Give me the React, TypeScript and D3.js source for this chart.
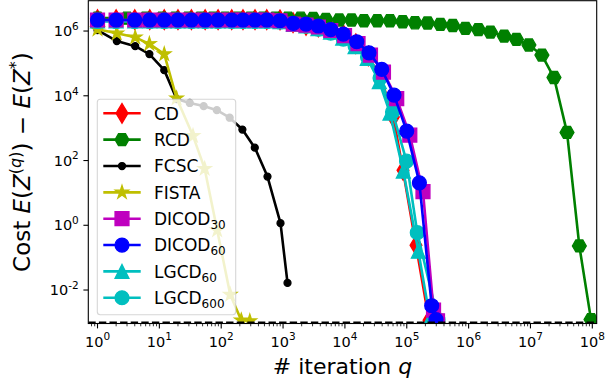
import React, { useEffect, useRef } from "react";
import * as d3 from "d3";

// values (iteration q, cost)
const cdIter = [1, 2, 4, 7, 12, 20, 33, 55, 89, 148, 225, 352, 545, 893, 1450, 2350, 3720, 5900, 9420, 15000, 23900, 38300, 60700, 86900, 141000, 229000];
const cdCost = [2.25e6, 2.25e6, 2.25e6, 2.25e6, 2.25e6, 2.25e6, 2.25e6, 2.25e6, 2.25e6, 2.25e6, 2.25e6, 2.25e6, 2.25e6, 2.2e6, 1.81e6, 1.5e6, 1.33e6, 1.13e6, 7.7e5, 4.05e5, 1.69e5, 3.52e4, 2.2e3, 50, 0.24, 1.16e-3];

const rcdIter = [1, 3, 6, 11, 18, 29, 46, 73, 116, 185, 295, 470, 750, 1200, 1920, 3070, 4920, 8090, 12800, 20300, 33400, 53500, 85900, 136000, 217000, 349000, 554000, 888000, 1440000, 2250000, 3760000, 5940000, 9440000, 15300000, 24000000, 39000000, 61700000, 95300000];
const rcdCost = [2.5e6, 2.5e6, 2.5e6, 2.5e6, 2.5e6, 2.5e6, 2.5e6, 2.5e6, 2.5e6, 2.5e6, 2.5e6, 2.5e6, 2.5e6, 2.5e6, 2.5e6, 2.47e6, 2.3e6, 2.19e6, 2.19e6, 2.08e6, 2.08e6, 2.08e6, 1.94e6, 1.8e6, 1.77e6, 1.61e6, 1.48e6, 1.21e6, 1.11e6, 9.3e5, 7.0e5, 5.5e5, 3.7e5, 1.81e5, 3.66e4, 740, 0.23, 1.22e-3];

const fcscIter = [1, 2.05, 4.07, 6.9, 12, 19, 31, 52, 85, 137, 220, 349, 560, 909, 1180];
const fcscCost = [1.07e6, 4.9e5, 3.4e5, 1.94e5, 6.2e4, 7.9e3, 6.0e3, 4.8e3, 3.6e3, 2.1e3, 906, 250, 32, 1.16, 0.0166];

const fistaIter = [1, 2.05, 4.07, 6.9, 12, 19, 35, 54, 86, 140, 211, 290];
const fistaCost = [1.13e6, 8.5e5, 6.4e5, 4.0e5, 1.94e5, 8.4e3, 580, 56, 0.71, 0.0072, 1.17e-3, 1.1e-3];

const dicod30Iter = [1, 2, 4, 7, 12, 20, 33, 55, 89, 148, 225, 352, 545, 893, 1465, 2350, 3720, 5900, 9860, 16300, 25900, 42000, 68800, 112000, 183000, 271000, 314000];
const dicod30Cost = [2.19e6, 2.19e6, 2.19e6, 2.19e6, 2.19e6, 2.19e6, 2.19e6, 2.19e6, 2.19e6, 2.19e6, 2.19e6, 2.19e6, 2.19e6, 2.08e6, 1.64e6, 1.53e6, 1.33e6, 1.04e6, 7.26e5, 4.11e5, 1.81e5, 5.4e4, 8.2e3, 610, 10.9, 2.4e-3, 1.12e-3];

const dicod60Iter = [1, 2, 4, 7, 12, 20, 33, 55, 89, 148, 225, 352, 545, 893, 1465, 2350, 3720, 5900, 9420, 15500, 24500, 39400, 62200, 99800, 160000, 253000, 297000];
const dicod60Cost = [2.19e6, 2.19e6, 2.19e6, 2.19e6, 2.19e6, 2.19e6, 2.19e6, 2.19e6, 2.19e6, 2.19e6, 2.19e6, 2.19e6, 2.19e6, 2.08e6, 1.73e6, 1.64e6, 1.43e6, 1.11e6, 8.07e5, 4.67e5, 2.13e5, 6.55e4, 1.05e4, 811, 20.5, 3.27e-3, 1.22e-3];

const lgcd60Iter = [1, 2, 4, 7, 12, 20, 33, 55, 89, 148, 225, 352, 545, 893, 1475, 2350, 3670, 5850, 9210, 14600, 23000, 36000, 53600, 87900, 154000, 238000];
const lgcd60Cost = [2.04e6, 2.04e6, 2.04e6, 2.04e6, 2.04e6, 2.04e6, 2.04e6, 2.04e6, 2.04e6, 2.04e6, 2.04e6, 2.04e6, 2.04e6, 1.95e6, 1.59e6, 1.43e6, 1.19e6, 9.3e5, 6.08e5, 3.27e5, 1.43e5, 2.71e4, 2.92e3, 47, 0.158, 1.25e-3];

const lgcd600Iter = [1, 2, 4, 7, 12, 20, 33, 55, 89, 148, 225, 352, 545, 893, 1465, 2350, 3720, 5900, 9420, 14600, 23200, 37000, 58900, 99100, 148000, 320000];
const lgcd600Cost = [1.97e6, 1.97e6, 1.97e6, 1.97e6, 1.97e6, 1.97e6, 1.97e6, 1.97e6, 1.97e6, 1.97e6, 1.97e6, 1.97e6, 1.97e6, 1.9e6, 1.59e6, 1.43e6, 1.15e6, 8.67e5, 5.66e5, 3.44e5, 1.57e5, 3.52e4, 3.13e3, 95.7, 0.59, 1.21e-3];

const tolerance = 1e-3;
const xTicks = [1, 10, 100, 1e3, 1e4, 1e5, 1e6, 1e7, 1e8];
const yTicks = [1e-2, 1, 1e2, 1e4, 1e6];

const series = [
  { name: "CD", sub: "", color: "#ff0000", marker: "thin_diamond", iter: cdIter, cost: cdCost },
  { name: "RCD", sub: "", color: "#008000", marker: "hexagon", iter: rcdIter, cost: rcdCost },
  { name: "FCSC", sub: "", color: "#000000", marker: "point", iter: fcscIter, cost: fcscCost },
  { name: "FISTA", sub: "", color: "#bfbf00", marker: "star", iter: fistaIter, cost: fistaCost },
  { name: "DICOD", sub: "30", color: "#bf00bf", marker: "square", iter: dicod30Iter, cost: dicod30Cost },
  { name: "DICOD", sub: "60", color: "#0000ff", marker: "circle", iter: dicod60Iter, cost: dicod60Cost },
  { name: "LGCD", sub: "60", color: "#00bfbf", marker: "triangle", iter: lgcd60Iter, cost: lgcd60Cost },
  { name: "LGCD", sub: "600", color: "#00bfbf", marker: "circle", iter: lgcd600Iter, cost: lgcd600Cost },
];
// drawing order (DICOD on top of LGCD)
const drawOrder = [0, 1, 2, 3, 6, 7, 4, 5];

const W = 608;
const H = 385;
const margin = { left: 88.3, top: 0.7, right: 11.3, bottom: 61.5 };
const MS = 13.9;
const FONT = "DejaVu Sans, sans-serif";

const polygon = (pts: [number, number][]) =>
  "M" + pts.map((p) => p[0].toFixed(2) + "," + p[1].toFixed(2)).join("L") + "Z";

const markerPath = (kind: string, s: number) => {
  const r = s / 2;
  if (kind === "circle" || kind === "point") {
    const rr = kind === "point" ? s / 4 : r;
    const p = d3.path();
    p.moveTo(rr, 0);
    p.arc(0, 0, rr, 0, 2 * Math.PI);
    p.closePath();
    return p.toString();
  }
  if (kind === "square") return polygon([[-r, -r], [r, -r], [r, r], [-r, r]]);
  if (kind === "triangle") return polygon([[0, -r], [r, r], [-r, r]]);
  if (kind === "thin_diamond") {
    const h = s * Math.SQRT1_2;
    return polygon([[0, -h], [0.6 * h, 0], [0, h], [-0.6 * h, 0]]);
  }
  if (kind === "hexagon") {
    // flat top, points left and right
    const pts: [number, number][] = d3.range(6).map((k) => {
      const a = (k * Math.PI) / 3;
      return [r * Math.cos(a), r * Math.sin(a)];
    });
    return polygon(pts);
  }
  // star
  const pts: [number, number][] = d3.range(10).map((k) => {
    const a = -Math.PI / 2 + (k * Math.PI) / 5;
    const rad = k % 2 === 0 ? r : r * 0.381;
    return [rad * Math.cos(a), rad * Math.sin(a)];
  });
  return polygon(pts);
};

export default function App() {
  const ref = useRef<SVGSVGElement>(null);

  useEffect(() => {
    document.body.style.margin = "0";
    const svg = d3.select(ref.current);
    svg.selectAll("*").remove();

    const x = d3
      .scaleLog()
      .domain([10 ** -0.149, 10 ** 8.071])
      .range([margin.left, W - margin.right]);
    const y = d3
      .scaleLog()
      .domain([10 ** -3.034, 10 ** 6.937])
      .range([H - margin.bottom, margin.top]);

    const x0 = margin.left;
    const x1 = W - margin.right;
    const y0 = H - margin.bottom;
    const y1 = margin.top;

    svg
      .append("defs")
      .append("clipPath")
      .attr("id", "plotclip")
      .append("rect")
      .attr("x", x0)
      .attr("y", y1)
      .attr("width", x1 - x0)
      .attr("height", y0 - y1);

    const plot = svg.append("g").attr("clip-path", "url(#plotclip)");

    const line = d3
      .line<[number, number]>()
      .x((d) => x(d[0]))
      .y((d) => y(d[1]));

    drawOrder.forEach((i) => {
      const s = series[i];
      const pts: [number, number][] = s.iter.map((q, k) => [q, s.cost[k]]);
      const g = plot.append("g");
      g.append("path")
        .attr("d", line(pts))
        .attr("fill", "none")
        .attr("stroke", s.color)
        .attr("stroke-width", 2.6)
        .attr("stroke-linejoin", "round");
      g.selectAll(".mk")
        .data(pts)
        .enter()
        .append("path")
        .attr("class", "mk")
        .attr("d", markerPath(s.marker, MS))
        .attr("transform", (d) => `translate(${x(d[0])},${y(d[1])})`)
        .attr("fill", s.color)
        .attr("stroke", s.color)
        .attr("stroke-width", 1.3);
    });

    // tolerance line
    plot
      .append("line")
      .attr("x1", x0)
      .attr("x2", x1)
      .attr("y1", y(tolerance))
      .attr("y2", y(tolerance))
      .attr("stroke", "black")
      .attr("stroke-width", 2)
      .attr("stroke-dasharray", "7.4 3.2");

    // frame
    svg
      .append("rect")
      .attr("x", x0)
      .attr("y", y1)
      .attr("width", x1 - x0)
      .attr("height", y0 - y1)
      .attr("fill", "none")
      .attr("stroke", "black")
      .attr("stroke-width", 1.1);

    // x ticks
    const xa = svg.append("g");
    const minor: number[] = [];
    for (let e = -1; e <= 8; e++) {
      for (let m = 2; m <= 9; m++) {
        const v = m * 10 ** e;
        if (x(v) >= x0 && x(v) <= x1) minor.push(v);
      }
    }
    xa.selectAll(".minor")
      .data(minor)
      .enter()
      .append("line")
      .attr("x1", (d) => x(d))
      .attr("x2", (d) => x(d))
      .attr("y1", y0)
      .attr("y2", y0 + 2.8)
      .attr("stroke", "black")
      .attr("stroke-width", 0.8);
    xa.selectAll(".major")
      .data(xTicks)
      .enter()
      .append("line")
      .attr("x1", (d) => x(d))
      .attr("x2", (d) => x(d))
      .attr("y1", y0)
      .attr("y2", y0 + 4.9)
      .attr("stroke", "black")
      .attr("stroke-width", 1.1);
    const xl = xa
      .selectAll(".lbl")
      .data(xTicks)
      .enter()
      .append("text")
      .attr("x", (d) => x(d))
      .attr("y", y0 + 23)
      .attr("text-anchor", "middle")
      .attr("font-family", FONT)
      .attr("font-size", 14.5);
    xl.append("tspan").text("10");
    xl.append("tspan")
      .attr("dy", -6.3)
      .attr("font-size", 10.5)
      .text((d) => String(Math.round(Math.log10(d))));

    // y ticks
    const ya = svg.append("g");
    ya.selectAll(".major")
      .data(yTicks)
      .enter()
      .append("line")
      .attr("x1", x0 - 4.9)
      .attr("x2", x0)
      .attr("y1", (d) => y(d))
      .attr("y2", (d) => y(d))
      .attr("stroke", "black")
      .attr("stroke-width", 1.1);
    const yl = ya
      .selectAll(".lbl")
      .data(yTicks)
      .enter()
      .append("text")
      .attr("x", x0 - 9.5)
      .attr("y", (d) => y(d) + 5.2)
      .attr("text-anchor", "end")
      .attr("font-family", FONT)
      .attr("font-size", 14.5);
    yl.append("tspan").text("10");
    yl.append("tspan")
      .attr("dy", -6.3)
      .attr("font-size", 10.5)
      .text((d) => String(Math.round(Math.log10(d))));

    // axis labels
    const xlab = svg
      .append("text")
      .attr("x", (x0 + x1) / 2)
      .attr("y", 373.5)
      .attr("text-anchor", "middle")
      .attr("font-family", FONT)
      .attr("font-size", 22);
    xlab.append("tspan").text("# iteration ");
    xlab.append("tspan").attr("font-style", "italic").text("q");

    const ylab = svg
      .append("text")
      .attr("transform", `translate(29.5,${(y0 + y1) / 2}) rotate(-90)`)
      .attr("text-anchor", "middle")
      .attr("font-family", FONT)
      .attr("font-size", 23);
    ylab.append("tspan").text("Cost ");
    ylab.append("tspan").attr("font-style", "italic").text("E");
    ylab.append("tspan").text("(");
    ylab.append("tspan").attr("font-style", "italic").text("Z");
    ylab.append("tspan").attr("dy", -9).attr("font-size", 16).text("(");
    ylab.append("tspan").attr("font-size", 16).attr("font-style", "italic").text("q");
    ylab.append("tspan").attr("font-size", 16).text(")");
    ylab.append("tspan").attr("dy", 9).text(") \u2212 ");
    ylab.append("tspan").attr("font-style", "italic").text("E");
    ylab.append("tspan").text("(");
    ylab.append("tspan").attr("font-style", "italic").text("Z");
    ylab.append("tspan").attr("dy", -9).attr("font-size", 16).text("*");
    ylab.append("tspan").attr("dy", 9).text(")");

    // legend
    const lg = svg.append("g");
    lg.append("rect")
      .attr("x", 97.3)
      .attr("y", 99.3)
      .attr("width", 138.4)
      .attr("height", 215.5)
      .attr("rx", 3)
      .attr("fill", "white")
      .attr("fill-opacity", 0.8)
      .attr("stroke", "#cccccc")
      .attr("stroke-opacity", 0.8)
      .attr("stroke-width", 1.1);
    series.forEach((s, i) => {
      const cy = 113.3 + i * 26.35;
      const row = lg.append("g");
      row
        .append("line")
        .attr("x1", 103.3)
        .attr("x2", 140.7)
        .attr("y1", cy)
        .attr("y2", cy)
        .attr("stroke", s.color)
        .attr("stroke-width", 2.6);
      row
        .append("path")
        .attr("d", markerPath(s.marker, MS))
        .attr("transform", `translate(122,${cy})`)
        .attr("fill", s.color)
        .attr("stroke", s.color)
        .attr("stroke-width", 1.3);
      const t = row
        .append("text")
        .attr("x", 154)
        .attr("y", cy + 6.3)
        .attr("font-family", FONT)
        .attr("font-size", 17);
      t.append("tspan").text(s.name);
      if (s.sub) t.append("tspan").attr("dy", 4).attr("font-size", 12).text(s.sub);
    });
  }, []);

  return <svg ref={ref} width={W} height={H} style={{ display: "block" }} />;
}
